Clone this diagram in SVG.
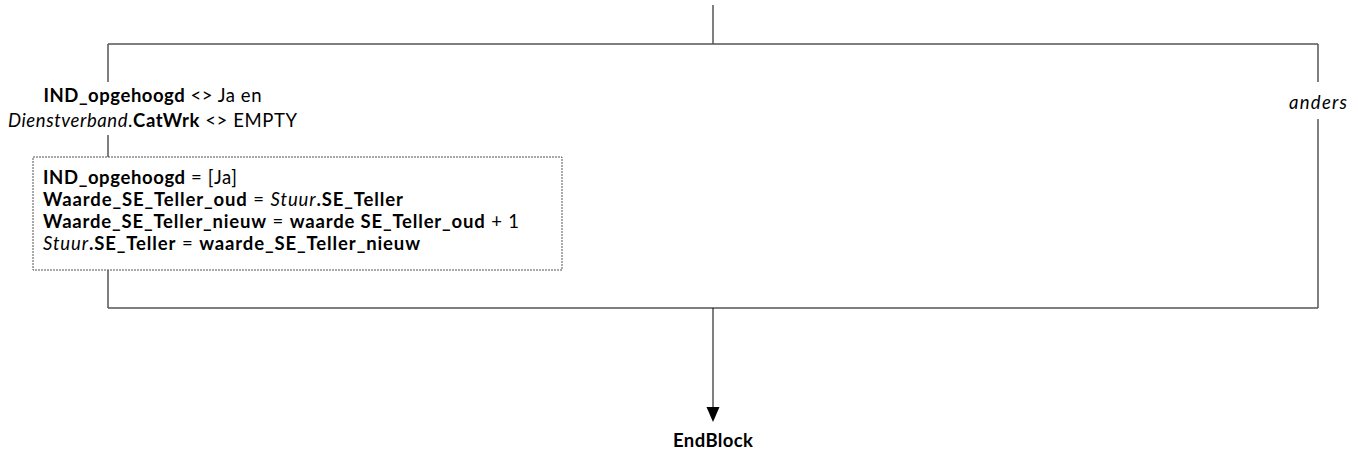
<svg xmlns="http://www.w3.org/2000/svg" width="1368" height="457" viewBox="0 0 1368 457">
<style>
text{font-family:Lato,"Open Sans","Liberation Sans",sans-serif;font-size:18.5px;fill:#000}
.b{font-weight:bold}
.i{font-style:italic}
.frame{fill:none;stroke:#555;stroke-width:1.5}
.conn{fill:none;stroke:#000;stroke-width:1}
.dot{fill:#fff;stroke:#555;stroke-width:1;stroke-dasharray:2 1}
</style>
<defs>
<marker id="arr" markerWidth="14" markerHeight="15" refX="7" refY="15" orient="auto" markerUnits="userSpaceOnUse" viewBox="0 0 14 15">
<path d="M0,0 L14,0 L7,15 Z" fill="#000" transform="rotate(-90 7 7.5)"/>
</marker>
</defs>
<g id="connectors">
<line class="conn" x1="713" y1="5" x2="713" y2="44"/>
<line class="frame" x1="108" y1="44" x2="1318" y2="44"/>
<line class="frame" x1="1318" y1="44" x2="1318" y2="82"/>
<line class="frame" x1="1318" y1="119" x2="1318" y2="308"/>
<line class="frame" x1="108" y1="308" x2="1318" y2="308"/>
<line class="frame" x1="108" y1="44" x2="108" y2="82"/>
<line class="frame" x1="108" y1="135" x2="108" y2="157"/>
<line class="frame" x1="108" y1="270" x2="108" y2="308"/>
<line class="conn" x1="713" y1="308" x2="713" y2="408"/>
<path d="M706.5,407 L719.5,407 L713,422 Z" fill="#000"/>
</g>
<g id="cond-label">
<text x="152.5" y="101.5" text-anchor="middle" textLength="218" lengthAdjust="spacing"><tspan class="b">IND_opgehoogd</tspan> &lt;&gt; Ja en</text>
<text x="152.5" y="126.5" text-anchor="middle" textLength="289" lengthAdjust="spacing"><tspan class="i">Dienstverband</tspan>.<tspan class="b">CatWrk</tspan> &lt;&gt; EMPTY</text>
</g>
<g id="anders-label">
<text x="1318" y="109" text-anchor="middle" class="i" textLength="58" lengthAdjust="spacing">anders</text>
</g>
<g id="action-box">
<rect class="dot" x="33" y="157" width="529" height="113"/>
<text x="43" y="183.5" textLength="194" lengthAdjust="spacing"><tspan class="b">IND_opgehoogd</tspan> = [Ja]</text>
<text x="43" y="205.5" textLength="360" lengthAdjust="spacing"><tspan class="b">Waarde_SE_Teller_oud</tspan> = <tspan class="i">Stuur</tspan><tspan class="b">.SE_Teller</tspan></text>
<text x="43" y="227.5" textLength="476" lengthAdjust="spacing"><tspan class="b">Waarde_SE_Teller_nieuw</tspan> = <tspan class="b">waarde SE_Teller_oud</tspan> + 1</text>
<text x="43" y="249.5" textLength="377" lengthAdjust="spacing"><tspan class="i">Stuur</tspan><tspan class="b">.SE_Teller</tspan> = <tspan class="b">waarde_SE_Teller_nieuw</tspan></text>
</g>
<g id="endblock">
<text x="713" y="447" text-anchor="middle" class="b" textLength="80" lengthAdjust="spacing">EndBlock</text>
</g>
</svg>
